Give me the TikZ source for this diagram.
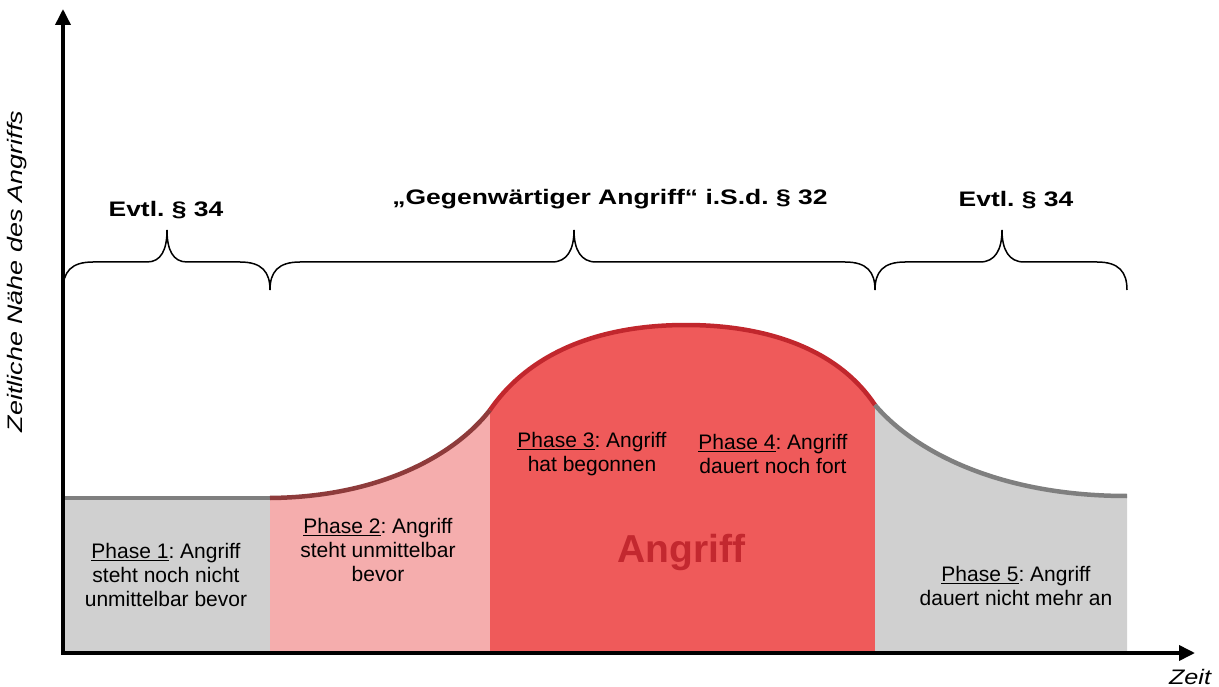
\documentclass[tikz,border=0pt]{standalone}
\usepackage{fontspec}
\setmainfont{Liberation Sans}
\usetikzlibrary{arrows.meta}
\frenchspacing
\definecolor{gfill}{HTML}{D0D0D0}
\definecolor{gline}{HTML}{7F7F7F}
\definecolor{pfill}{HTML}{F5ADAD}
\definecolor{rfill}{HTML}{EF5A5A}
\definecolor{rline}{HTML}{C1272D}
\definecolor{dline}{HTML}{8E3B3B}
\definecolor{atext}{HTML}{C3282F}
\begin{document}
\begin{tikzpicture}[x=1pt,y=-1pt,
  axis/.style={line width=3.6pt,-{Triangle[length=16pt,width=15pt]}},
  curve/.style={line width=4.5pt},
  bracepath/.style={line width=1.5pt,black},
  phasetext/.style={align=center,inner sep=0pt,font=\frenchspacing\fontsize{21}{24.3}\selectfont},
  boldtext/.style={inner sep=0pt,font=\frenchspacing\bfseries\fontsize{21}{25}\selectfont},
  axtext/.style={inner sep=0pt,font=\itshape\fontsize{21}{25}\selectfont}]
\useasboundingbox (0,0) rectangle (1219,687);
% regions
\fill[gfill] (63,651) -- (63,498) -- (270,498) -- (270,651) -- cycle;
\fill[pfill] (270,651) -- (270,498) .. controls (380,497) and (455,455) .. (490,410) -- (490,651) -- cycle;
\fill[rfill] (490,651) -- (490,410) .. controls (530,352) and (600,325) .. (686,325) .. controls (772,325) and (840,352) .. (875,405) -- (875,651) -- cycle;
\fill[gfill] (875,651) -- (875,405) .. controls (915,452) and (1000,496) .. (1127,496) -- (1127,651) -- cycle;
% curves
\draw[curve,gline] (63,498) -- (270,498);
\draw[curve,dline] (270,498) .. controls (380,497) and (455,455) .. (490,410);
\draw[curve,rline] (490,410) .. controls (530,352) and (600,325) .. (686,325) .. controls (772,325) and (840,352) .. (875,405);
\draw[curve,gline] (875,405) .. controls (915,452) and (1000,496) .. (1127,496);
% braces
\draw[bracepath] (63,290) .. controls (63,272) and (71,262) .. (93,262) -- (147,262) .. controls (161,262) and (167,250) .. (167,230) .. controls (167,250) and (173,262) .. (187,262) -- (240,262) .. controls (262,262) and (270,272) .. (270,290);
\draw[bracepath] (270,290) .. controls (270,272) and (278,262) .. (300,262) -- (552,262) .. controls (567,262) and (574,250) .. (574,230) .. controls (574,250) and (581,262) .. (596,262) -- (845,262) .. controls (867,262) and (875,272) .. (875,290);
\draw[bracepath] (875,290) .. controls (875,272) and (883,262) .. (905,262) -- (980,262) .. controls (995,262) and (1002,250) .. (1002,230) .. controls (1002,250) and (1009,262) .. (1024,262) -- (1097,262) .. controls (1119,262) and (1127,272) .. (1127,290);
% axes
\coordinate (o) at (63,653);
\coordinate (ytip) at (63,9);
\coordinate (xtip) at (1195,653);
\draw[axis] (63,654.8) -- (ytip);
\draw[axis] (61.2,653) -- (xtip);
% texts
\node[boldtext,anchor=base] (t1) at (166,216.5) {\scalebox{1.26}[1]{Evtl. § 34}};
\node[boldtext,anchor=base] (t2) at (610,204.5) {\scalebox{1.26}[1]{„Gegenwärtiger Angriff“ i.S.d. § 32}};
\node[boldtext,anchor=base] (t3) at (1016,207) {\scalebox{1.26}[1]{Evtl. § 34}};
\node[phasetext] (ph1) at (166,575) {\underline{Phase 1}: Angriff\\steht noch nicht\\unmittelbar bevor};
\node[phasetext] (ph2) at (378,550) {\underline{Phase 2}: Angriff\\steht unmittelbar\\bevor};
\node[phasetext] (ph3) at (592,454) {\underline{Phase 3}: Angriff\\hat begonnen};
\node[phasetext] (ph4) at (773,454) {\underline{Phase 4}: Angriff\\dauert noch fort};
\node[phasetext] (ph5) at (1016,586) {\underline{Phase 5}: Angriff\\dauert nicht mehr an};
\node[inner sep=0pt,anchor=base,text=atext,font=\bfseries\fontsize{39}{44}\selectfont] (ang) at (681.5,562) {Angriff};
\node[axtext,anchor=base] (zeit) at (1190,684) {\scalebox{1.2}[1]{Zeit}};
\node[axtext,anchor=base,rotate=90] (ylab) at (23,271.5) {\scalebox{1.28}[1]{Zeitliche Nähe des Angriffs}};
\end{tikzpicture}
\end{document}
